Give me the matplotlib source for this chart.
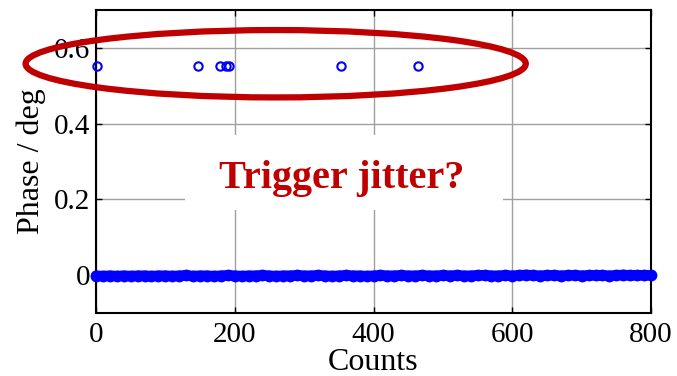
import matplotlib
matplotlib.use('Agg')
import matplotlib.pyplot as plt
import numpy as np
from matplotlib.patches import Ellipse, Rectangle

plt.rcParams['font.family'] = ['Liberation Serif', 'DejaVu Serif']

# main phase trace, read every 10 counts (deg)
base_counts = list(range(0, 801, 10))
base_phase = [-0.002, -0.003, -0.002, -0.003, -0.002, -0.003, -0.002, -0.002, -0.003, -0.002,
              -0.002, -0.003, -0.002, -0.001, -0.003, -0.002, -0.002, -0.003, -0.002, -0.001,
              -0.002, -0.003, -0.002, -0.002, -0.001, -0.002, -0.003, -0.002, -0.002, -0.001,
              -0.002, -0.002, -0.001, -0.002, -0.003, -0.002, -0.001, -0.002, -0.002, -0.003,
              -0.002, -0.001, -0.002, -0.002, -0.001, -0.002, -0.002, -0.001, -0.002, -0.002,
              -0.001, -0.002, -0.001, -0.002, -0.002, -0.001, -0.001, -0.002, -0.002, -0.001,
              -0.002, -0.001, 0.000, -0.001, -0.002, -0.001, -0.001, -0.002, -0.001, -0.001,
              -0.002, -0.001, -0.001, -0.001, -0.002, -0.001, 0.000, -0.001, -0.001, -0.001,
              -0.001]

# outliers (trigger jitter)
jump_counts = [2, 147, 179, 187, 191, 353, 464]
jump_phase = [0.551, 0.551, 0.551, 0.551, 0.551, 0.551, 0.551]

x_ticks = [0, 200, 400, 600, 800]
y_ticks = [0, 0.2, 0.4, 0.6]

red = '#C00000'

fig = plt.figure(figsize=(6.77, 3.76), dpi=100)
ax = fig.add_axes([0.1418, 0.1682, 0.8198, 0.8052])

ax.plot(base_counts, base_phase, '-o', color='#0000FF', lw=7.5, ms=8.5, mew=0,
        solid_capstyle='round', clip_on=False, zorder=3)
ax.plot(jump_counts, jump_phase, 'o', mfc='none', mec='#0000FF', ms=6, mew=1.5,
        clip_on=False, zorder=3)

ax.set_xlim(0, 800)
ax.set_ylim(-0.1, 0.7)
ax.set_xticks(x_ticks)
ax.set_yticks(y_ticks)
ax.set_yticklabels(['0', '0.2', '0.4', '0.6'])
ax.grid(True, color='#a0a0a0', lw=1.0)
ax.set_axisbelow(True)
ax.tick_params(direction='in', length=4, width=1, labelsize=21, pad=4,
               top=True, right=True)
ax.tick_params(axis='x', pad=7)
for s in ax.spines.values():
    s.set_linewidth(1.5)

ax.set_xlabel('Counts', fontsize=23)
ax.xaxis.set_label_coords(0.5, -0.115)
ax.set_ylabel('Phase / deg', fontsize=23)
ax.yaxis.set_label_coords(-0.09, 0.5)

# white box behind the annotation, hides the grid
ax.add_patch(Rectangle((128, 0.172), 458, 0.199, facecolor='white', edgecolor='none', zorder=2))
ax.text(354, 0.255, 'Trigger jitter?', color=red, fontsize=29, fontweight='bold',
        ha='center', va='center', zorder=4)

ax.add_patch(Ellipse((259, 0.558), 721, 0.178, fill=False, edgecolor=red, lw=4.5,
                     clip_on=False, zorder=5))

fig.savefig('out.png', dpi=100)
